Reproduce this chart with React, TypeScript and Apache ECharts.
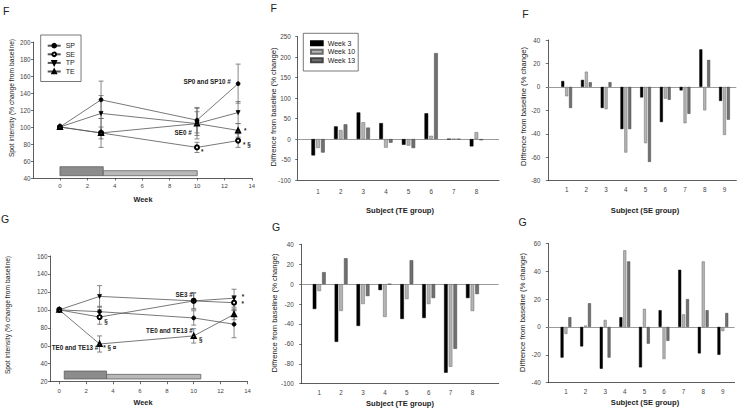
import React, { useEffect, useRef } from 'react';
import * as echarts from 'echarts';

const FONT = '"Liberation Sans", Arial, sans-serif';

// ---- line charts (spot intensity) ----
const WEEKS = [0, 3, 10, 13];
const WEEK_TICKS = [0, 2, 4, 6, 8, 10, 12, 14];
const F_Y_TICKS = [40, 60, 80, 100, 120, 140, 160, 180, 200];

const F_SP = [100, 132, 108, 151];
const F_SE = [100, 93, 76, 84];
const F_TP = [100, 116, 104, 117];
const F_TE = [100, 93, 104, 96];
const F_SP_ERR = [0, 22, 15, 23];
const F_SE_ERR = [0, 7, 6, 8];
const F_TP_ERR = [0, 21, 14, 13];
const F_TE_ERR = [0, 17, 18, 8];

const G_SP = [100, 98, 91, 84];
const G_SE = [100, 92, 110, 108];
const G_TP = [100, 115, 110, 113];
const G_TE = [100, 62, 71, 95];
const G_SP_ERR = [0, 6, 8, 15];
const G_SE_ERR = [0, 8, 9, 8];
const G_TP_ERR = [0, 12, 9, 10];
const G_TE_ERR = [0, 9, 8, 6];

// treatment period bars: [start week, end week, low, high, shade]
const F_PERIODS = [
  [0, 3.16, 42.7, 53.3, 0],
  [3.16, 10.02, 42.7, 48.6, 1],
];
const G_PERIODS = [
  [0.37, 3.52, 23, 31.9, 0],
  [3.52, 10.53, 23, 28.2, 1],
];

// annotations: [week, value, text, align]
const F_NOTES: [number, number, string, string][] = [
  [12.46, 154, 'SP0 and SP10 #', 'right'],
  [9.61, 93.3, 'SE0 #', 'right'],
  [13.43, 95.6, '*', 'left'],
  [13.36, 80, '* §', 'left'],
  [10.29, 70.6, '*', 'left'],
];
const G_NOTES: [number, number, string, string][] = [
  [9.92, 117.3, 'SE3 #', 'right'],
  [9.92, 77.2, 'TE0 and TE13 #', 'right'],
  [10.39, 66.8, '§', 'left'],
  [13.58, 114.7, '*', 'left'],
  [13.56, 106.9, '*', 'left'],
  [2.9, 57.9, 'TE0 and TE13 #', 'right'],
  [3.27, 57.9, '* § ¤', 'left'],
  [3.35, 86.5, '§', 'left'],
];

// ---- bar charts (difference from baseline) ----
const TE_SUBJECTS = [1, 2, 3, 4, 5, 6, 7, 8];
const SE_SUBJECTS = [1, 2, 3, 4, 5, 6, 7, 8, 9];

const F_TE_W3 = [-40, 31, 65, 39, -14, 63, 0, -18];
const F_TE_W10 = [-22, 22, 41, -21, -16, 8, 0, 17];
const F_TE_W13 = [-33, 36, 28, -9, -22, 210, 0, -3];

const G_TE_W3 = [-25, -58, -42, -6, -35, -34, -89, -14];
const G_TE_W10 = [-7, -27, -20, -33, -15, -20, -83, -27];
const G_TE_W13 = [12, 26, -12, 0, 24, -14, -65, -10];

const F_SE_W3 = [5, 6, -18, -36, -9, -30, -3, 32, -12];
const F_SE_W10 = [-8, 13, -19, -56, -48, -10, -31, -20, -41];
const F_SE_W13 = [-18, 4, 4, -36, -64, -11, -23, 23, -28];

const G_SE_W3 = [-22, -14, -30, 7, -29, 12, 41, -19, -20];
const G_SE_W10 = [-5, 1, 5, 55, 13, -23, 9, 47, -3];
const G_SE_W13 = [7, 17, -22, 47, -12, -10, 20, 12, 10];

const AXIS_COLOR = '#333';
const LABEL_COLOR = '#444';

function errRender(params: any, api: any) {
  const x = api.value(0);
  const top = api.coord([x, api.value(2)]);
  const bot = api.coord([x, api.value(1)]);
  const w = 2.5;
  const style = { stroke: '#6a6a6a', lineWidth: 0.8 };
  return {
    type: 'group',
    children: [
      { type: 'line', shape: { x1: top[0], y1: top[1], x2: bot[0], y2: bot[1] }, style },
      { type: 'line', shape: { x1: top[0] - w, y1: top[1], x2: top[0] + w, y2: top[1] }, style },
      { type: 'line', shape: { x1: bot[0] - w, y1: bot[1], x2: bot[0] + w, y2: bot[1] }, style },
    ],
  };
}

function rectRender(params: any, api: any) {
  const p0 = api.coord([api.value(0), api.value(3)]);
  const p1 = api.coord([api.value(1), api.value(2)]);
  const shade = api.value(4);
  return {
    type: 'rect',
    shape: { x: p0[0], y: p0[1], width: p1[0] - p0[0], height: p1[1] - p0[1] },
    style: { fill: shade ? '#b8b8b8' : '#8c8c8c', stroke: '#555', lineWidth: 0.7 },
  };
}

function notesRender(notes: [number, number, string, string][]) {
  return (params: any, api: any) => {
    const n = notes[params.dataIndex];
    const p = api.coord([n[0], n[1]]);
    return {
      type: 'text',
      x: p[0],
      y: p[1],
      style: {
        text: n[2],
        align: n[3],
        verticalAlign: 'middle',
        font: `bold 6.3px ${FONT}`,
        fill: '#222',
      },
    };
  };
}

// y tick labels of the F line chart, placed through the y scale
function yTickLabelRender(xMin: number) {
  return (params: any, api: any) => {
    const v = F_Y_TICKS[params.dataIndex];
    const p = api.coord([xMin, v]);
    return {
      type: 'text',
      x: p[0] - 3,
      y: p[1],
      style: {
        text: String(v),
        align: 'right',
        verticalAlign: 'middle',
        font: `6.3px ${FONT}`,
        fill: LABEL_COLOR,
      },
    };
  };
}

function errData(vals: number[], errs: number[]) {
  const out: number[][] = [];
  WEEKS.forEach((w, i) => {
    if (errs[i] > 0) out.push([w, vals[i] - errs[i], vals[i] + errs[i]]);
  });
  return out;
}

function pairs(xs: number[], ys: number[]) {
  return xs.map((x, i) => [x, ys[i]]);
}

function lineXAxis(min: number, margin: number) {
  return {
    type: 'value',
    min,
    max: 14,
    axisLine: { show: true, onZero: false, lineStyle: { color: AXIS_COLOR, width: 0.8 } },
    axisTick: { show: true, customValues: WEEK_TICKS, length: 2.5, lineStyle: { color: AXIS_COLOR, width: 0.7 } },
    axisLabel: { customValues: WEEK_TICKS, fontSize: 6, color: LABEL_COLOR, margin, fontFamily: FONT },
    splitLine: { show: false },
  };
}

function barXAxis(min: number, max: number, cats: number[], margin: number) {
  return {
    type: 'value',
    min,
    max,
    axisLine: { show: true, onZero: false, lineStyle: { color: AXIS_COLOR, width: 0.8 } },
    axisTick: { show: false },
    axisLabel: { customValues: cats, fontSize: 6.3, color: LABEL_COLOR, margin, fontFamily: FONT },
    splitLine: { show: false },
  };
}

function yAx(min: number, max: number, interval: number, margin: number, showLabels = true) {
  return {
    type: 'value',
    min,
    max,
    interval,
    axisLine: { show: true, onZero: false, lineStyle: { color: AXIS_COLOR, width: 0.8 } },
    axisTick: { show: true, length: 2.5, lineStyle: { color: AXIS_COLOR, width: 0.7 } },
    axisLabel: { show: showLabels, fontSize: 6.3, color: LABEL_COLOR, margin, fontFamily: FONT },
    splitLine: { show: false },
  };
}

function lineSeries(name: string, vals: number[], symbol: string, rotate = 0) {
  return {
    type: 'line',
    name,
    data: pairs(WEEKS, vals),
    symbol,
    symbolSize: 4,
    symbolRotate: rotate,
    itemStyle: { color: '#000', borderColor: '#000', borderWidth: 0.7 },
    lineStyle: { color: '#555', width: 0.8 },
    z: 5,
  };
}

function errSeries(vals: number[], errs: number[]) {
  return {
    type: 'custom',
    renderItem: errRender,
    data: errData(vals, errs),
    encode: { x: 0, y: [1, 2] },
    silent: true,
    z: 3,
  };
}

const BAR_COLORS = ['#000000', '#b4b4b4', '#707070'];
const BAR_BORDERS = ['#000000', '#6a6a6a', '#444444'];
const BAR_NAMES = ['Week 3', 'Week 10', 'Week 13'];

function barSeries(cats: number[], sets: number[][], width: number) {
  return sets.map((vals, k) => ({
    type: 'bar',
    name: BAR_NAMES[k],
    data: pairs(cats, vals),
    barWidth: width,
    barGap: '30%',
    itemStyle: { color: BAR_COLORS[k], borderColor: BAR_BORDERS[k], borderWidth: 0.5 },
    z: 3,
    ...(k === 0
      ? {
          markLine: {
            silent: true,
            symbol: 'none',
            label: { show: false },
            lineStyle: { color: '#9a9a9a', width: 1, type: 'solid' },
            data: [{ yAxis: 0 }],
            z: 2,
          },
        }
      : {}),
  }));
}

function title(text: string, x: number, y: number, size: number, bold: boolean, vertical: boolean) {
  return {
    type: 'text',
    x,
    y,
    rotation: vertical ? Math.PI / 2 : 0,
    style: {
      text,
      font: `${bold ? 'bold ' : ''}${size}px ${FONT}`,
      fill: '#222',
      align: 'center',
      verticalAlign: 'middle',
    },
  };
}

function lineSet(vals: number[][], errs: number[][], periods: number[][], notes: [number, number, string, string][]) {
  return [
    { type: 'custom', renderItem: rectRender, data: periods, encode: { x: [0, 1], y: [2, 3] }, silent: true, z: 1 },
    errSeries(vals[0], errs[0]),
    errSeries(vals[1], errs[1]),
    errSeries(vals[2], errs[2]),
    errSeries(vals[3], errs[3]),
    lineSeries('SP', vals[0], 'circle'),
    lineSeries('SE', vals[1], 'emptyCircle'),
    lineSeries('TP', vals[2], 'triangle', 180),
    lineSeries('TE', vals[3], 'emptyTriangle'),
    { type: 'custom', renderItem: notesRender(notes), data: notes.map((n) => [n[0], n[1]]), silent: true, z: 6 },
  ];
}

const base = { animation: false, textStyle: { fontFamily: FONT } };
const F_X_MIN = -1.93;

const PANELS: any[] = [
  // F: spot intensity
  {
    ...base,
    grid: { left: 33.5, top: 42, width: 218.3, height: 136 },
    xAxis: lineXAxis(F_X_MIN, 4.5),
    yAxis: yAx(40, 200, 20, 3, false),
    legend: {
      data: ['SP', 'SE', 'TP', 'TE'],
      orient: 'vertical',
      left: 40.7,
      top: 35,
      padding: [6.7, 6, 6, 6],
      itemGap: 0.6,
      itemWidth: 13,
      itemHeight: 4.5,
      selectedMode: false,
      borderColor: '#555',
      borderWidth: 0.8,
      textStyle: { fontSize: 7, color: '#222', lineHeight: 8, fontFamily: FONT },
    },
    series: [
      ...lineSet([F_SP, F_SE, F_TP, F_TE], [F_SP_ERR, F_SE_ERR, F_TP_ERR, F_TE_ERR], F_PERIODS, F_NOTES),
      {
        type: 'custom',
        renderItem: yTickLabelRender(F_X_MIN),
        data: F_Y_TICKS.map((v) => [F_X_MIN, v]),
        clip: false,
        silent: true,
        z: 20,
      },
    ],
    graphic: [
      title('F', 6.2, 10.5, 10.5, false, false),
      title('Spot intensity (% change from baseline)', 11, 98, 6.7, false, true),
      title('Week', 143, 199.5, 7.3, true, false),
    ],
  },
  // G: spot intensity
  {
    ...base,
    grid: { left: 50.5, top: 256, width: 197, height: 125.7 },
    xAxis: lineXAxis(-0.65, 6),
    yAxis: yAx(20, 160, 20, 3),
    series: lineSet([G_SP, G_SE, G_TP, G_TE], [G_SP_ERR, G_SE_ERR, G_TP_ERR, G_TE_ERR], G_PERIODS, G_NOTES),
    graphic: [
      title('G', 5.2, 218.7, 10.5, false, false),
      title('Spot intensity (% change from baseline)', 7.5, 315, 6.7, false, true),
      title('Week', 143, 402, 7.3, true, false),
    ],
  },
  // F: TE group bars
  {
    ...base,
    grid: { left: 297.7, top: 36.7, width: 201.3, height: 143.3 },
    xAxis: barXAxis(0.1, 9, TE_SUBJECTS, 8),
    yAxis: yAx(-100, 250, 50, 7),
    legend: {
      data: BAR_NAMES,
      orient: 'vertical',
      left: 303.3,
      top: 33.3,
      padding: [6, 3, 6.7, 6.7],
      itemGap: 0.5,
      itemWidth: 11.7,
      itemHeight: 4,
      icon: 'rect',
      selectedMode: false,
      borderColor: '#555',
      borderWidth: 0.8,
      backgroundColor: '#fff',
      textStyle: { fontSize: 7, color: '#222', lineHeight: 8, fontFamily: FONT },
    },
    series: barSeries(TE_SUBJECTS, [F_TE_W3, F_TE_W10, F_TE_W13], 3.7),
    graphic: [
      title('F', 273.8, 7.5, 10.5, false, false),
      title('Diffrence from baseline (% change)', 273.5, 107, 7.6, false, true),
      title('Subject (TE group)', 400, 210, 7.6, true, false),
    ],
  },
  // G: TE group bars
  {
    ...base,
    grid: { left: 301.7, top: 244.3, width: 197, height: 139.4 },
    xAxis: barXAxis(0.2, 9.2, TE_SUBJECTS, 5.5),
    yAxis: yAx(-100, 40, 20, 8),
    series: barSeries(TE_SUBJECTS, [G_TE_W3, G_TE_W10, G_TE_W13], 3.6),
    graphic: [
      title('G', 276, 226.5, 10.5, false, false),
      title('Diffrence from baseline (% change)', 274.5, 313, 7.6, false, true),
      title('Subject (TE group)', 400, 403.3, 7.6, true, false),
    ],
  },
  // F: SE group bars
  {
    ...base,
    grid: { left: 548.3, top: 40, width: 188, height: 140.7 },
    xAxis: barXAxis(0.07, 9.6, SE_SUBJECTS, 6),
    yAxis: yAx(-80, 40, 20, 8),
    series: barSeries(SE_SUBJECTS, [F_SE_W3, F_SE_W10, F_SE_W13], 3),
    graphic: [
      title('F', 525.4, 13.5, 10.5, false, false),
      title('Diffrence from baseline (% change)', 523.3, 106.5, 7.6, false, true),
      title('Subject (SE group)', 645, 210, 7.6, true, false),
    ],
  },
  // G: SE group bars
  {
    ...base,
    grid: { left: 548.3, top: 243.3, width: 186.3, height: 139.4 },
    xAxis: barXAxis(0.1, 9.6, SE_SUBJECTS, 6),
    yAxis: yAx(-40, 60, 20, 7.6),
    series: barSeries(SE_SUBJECTS, [G_SE_W3, G_SE_W10, G_SE_W13], 3),
    graphic: [
      title('G', 522.7, 222.4, 10.5, false, false),
      title('Diffrence from baseline (% change)', 522.8, 312.5, 7.6, false, true),
      title('Subject (SE group)', 645, 402.7, 7.6, true, false),
    ],
  },
];

function Panel({ option }: { option: any }) {
  const ref = useRef<HTMLDivElement>(null);
  useEffect(() => {
    if (!ref.current) return;
    const chart = echarts.init(ref.current, undefined, { renderer: 'svg' });
    chart.setOption(option);
    return () => chart.dispose();
  }, [option]);
  return (
    <div
      ref={ref}
      style={{ position: 'absolute', left: 0, top: 0, width: 745, height: 410, pointerEvents: 'none' }}
    />
  );
}

export default function App() {
  return (
    <div style={{ position: 'absolute', left: 0, top: 0, width: 745, height: 410, background: '#fff' }}>
      {PANELS.map((opt, i) => (
        <Panel key={i} option={opt} />
      ))}
    </div>
  );
}
